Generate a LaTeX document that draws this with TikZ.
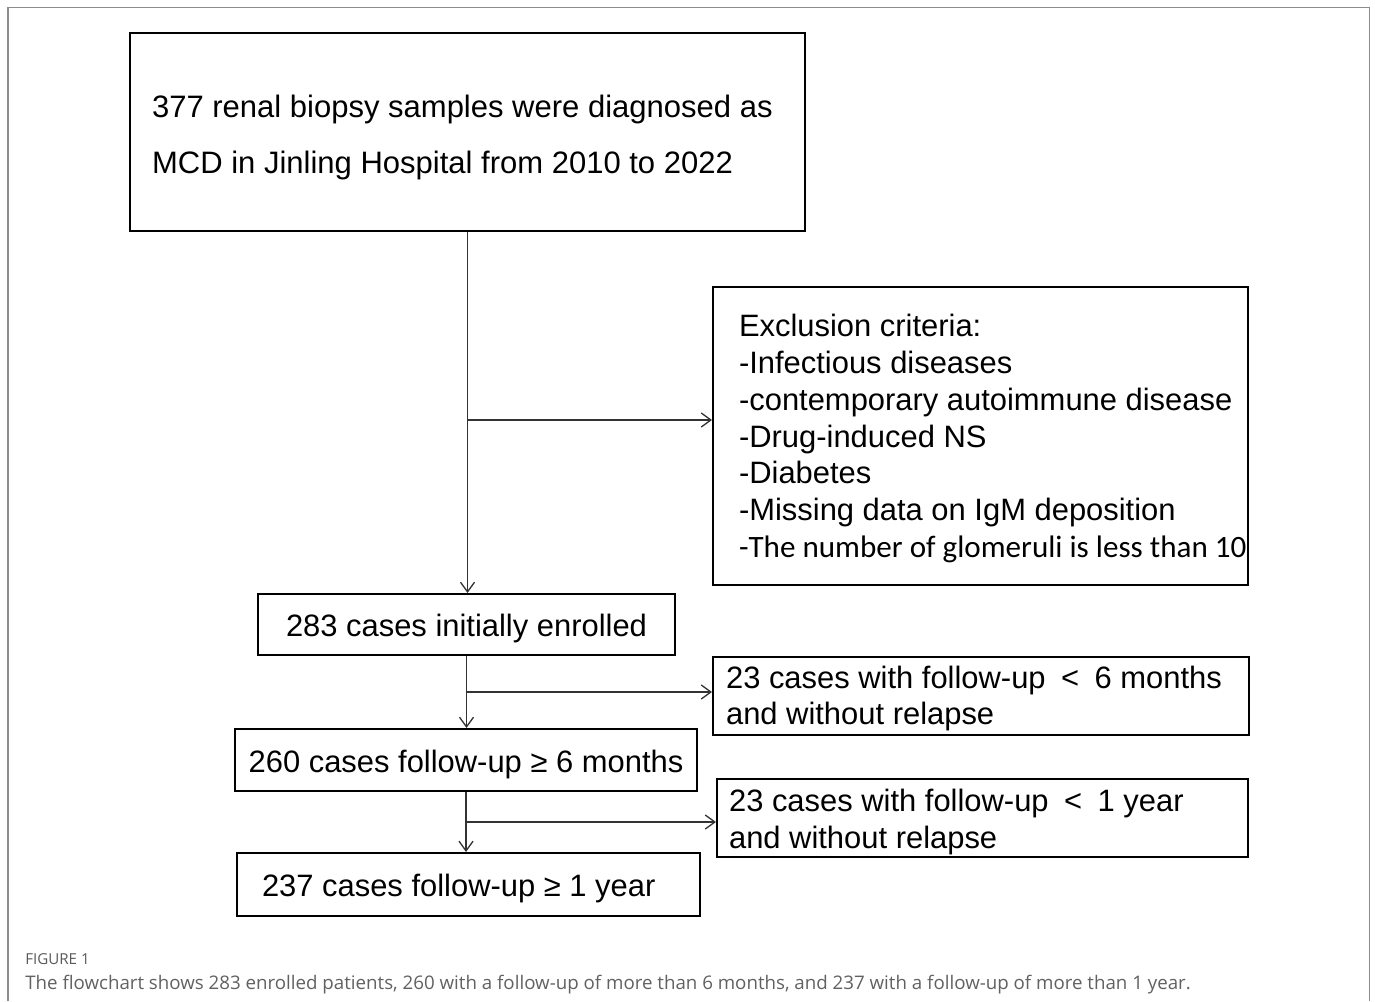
\documentclass[tikz,border=0pt]{standalone}
\usepackage{fontspec}
\setmainfont{Liberation Sans}
\newfontfamily\calibfont{Carlito}
\newfontfamily\capfont{Open Sans}
\usetikzlibrary{arrows.meta}

% strut that lowers the text block a little inside its box
\newcommand{\lowerby}[1]{\rule{0pt}{#1}}

\tikzset{
	box/.style={draw=black,line width=1.2pt,inner sep=0pt,
		font=\fontsize{17.6}{21}\selectfont},
	linebox/.style={box,text height=17.4pt,text depth=3.7pt},
	listbox/.style={box,align=flush left,inner xsep=0pt},
	flow/.style={draw=black!80,line width=0.75pt,
		-{Straight Barb[length=5.5pt,width=8pt]}},
}

\begin{document}
\begin{tikzpicture}[x=0.02cm,y=-0.02cm]
	
	\useasboundingbox (0,0) rectangle (1375,1001);
	
	% outer frame (open at the bottom)
	\draw[black!45,line width=0.6pt] (8,1001) -- (8,7.5) -- (1369.5,7.5) -- (1369.5,1001);
	
	% main column
	\node[listbox,text width=13.5cm,minimum height=3.96cm,
		font=\fontsize{17.65}{31.8}\selectfont] (biopsy) at (467.5,132)
		{\leftskip=0.44cm
		\lowerby{18.6pt}377 renal biopsy samples were diagnosed as\\
		MCD in Jinling Hospital from 2010 to 2022\par};
	\node[linebox,minimum width=8.34cm,minimum height=1.22cm] (enrolled) at (466.5,624.5)
		{283 cases initially enrolled};
	\node[linebox,minimum width=9.24cm,minimum height=1.24cm] (sixmonth) at (466,760)
		{260 cases follow-up ≥ 6 months};
	\node[listbox,text width=9.26cm,minimum height=1.26cm] (oneyear) at (468.5,884.5)
		{\leftskip=0.5cm \lowerby{17.4pt}237 cases follow-up ≥ 1 year\par};
	
	% side boxes
	\node[listbox,text width=10.7cm,minimum height=5.96cm] (excl) at (980.5,436)
		{\leftskip=0.52cm
		\lowerby{15.6pt}Exclusion criteria:\\
		-Infectious diseases\\
		-contemporary autoimmune disease\\
		-Drug-induced NS\\
		-Diabetes\\
		-Missing data on IgM deposition\\
		\makebox[0pt][l]{\calibfont\fontsize{17.7}{21}\selectfont -The number of glomeruli is less than 10}\par};
	\node[listbox,text width=10.72cm,minimum height=1.56cm] (lostsix) at (981,696)
		{\leftskip=0.26cm
		\lowerby{15.6pt}23 cases with follow-up \:<\: 6 months\\
		and without relapse\par};
	\node[listbox,text width=10.62cm,minimum height=1.56cm] (lostyear) at (982.5,818)
		{\leftskip=0.24cm
		\lowerby{17.4pt}23 cases with follow-up \:<\: 1 year\\
		and without relapse\par};
	
	% branch points
	\coordinate (j1) at (biopsy.south |- 0,420);
	\coordinate (j2) at (enrolled.south |- 0,692);
	\coordinate (j3) at (sixmonth.south |- 0,822);
	
	% connectors
	\draw[flow] (biopsy.south) -- (biopsy.south |- enrolled.north);
	\draw[flow] (j1) -- (j1 -| excl.west);
	\draw[flow] (enrolled.south) -- (enrolled.south |- sixmonth.north);
	\draw[flow] (j2) -- (j2 -| lostsix.west);
	\draw[flow] (sixmonth.south) -- (sixmonth.south |- oneyear.north);
	\draw[flow] (j3) -- (j3 -| lostyear.west);
	
	% caption
	\node[anchor=base west,inner sep=0pt,text=black!65,
		font=\capfont\fontsize{8.6}{10}\selectfont] (figlabel) at (25,964) {FIGURE 1};
	\node[anchor=base west,inner sep=0pt,text=black!62,
		font=\capfont\fontsize{10.65}{12}\selectfont] (caption) at (25,989)
		{The flowchart shows 283 enrolled patients, 260 with a follow-up of more than 6 months, and 237 with a follow-up of more than 1 year.};
	
\end{tikzpicture}
\end{document}
